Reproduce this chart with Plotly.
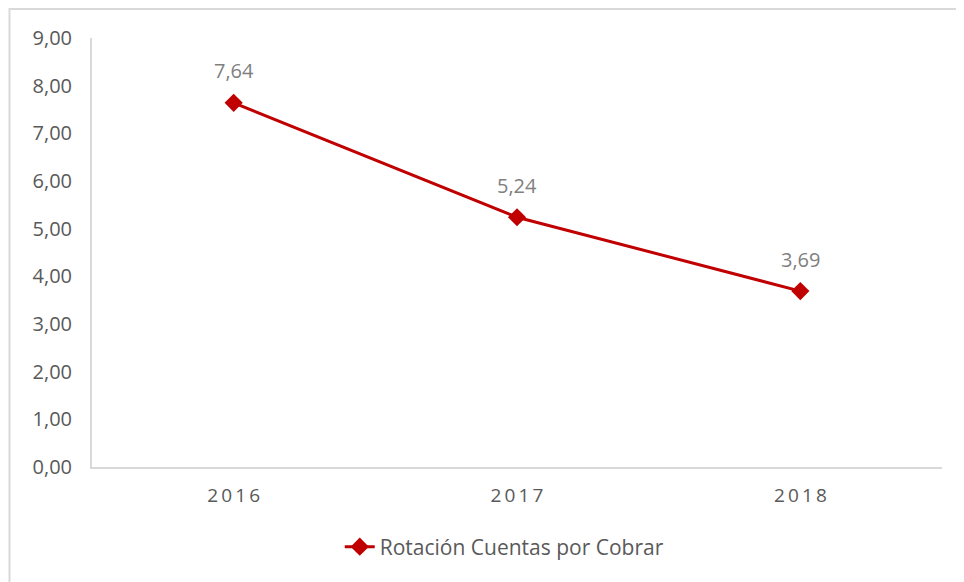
import plotly.graph_objects as go

# Datos
anios = ["2016", "2017", "2018"]
rotacion = [7.64, 5.24, 3.69]
serie = "Rotación Cuentas por Cobrar"
ticks_y = [0, 1, 2, 3, 4, 5, 6, 7, 8, 9]

rojo = "#C00000"
gris_txt = "#595959"
gris_lbl = "#808080"
gris_eje = "#D9D9D9"
fuente = "Open Sans"
tam = 20

fig = go.Figure()
fig.add_trace(go.Scatter(
    x=anios, y=rotacion, name=serie, mode="lines+markers",
    line=dict(color=rojo, width=3),
    marker=dict(symbol="diamond", size=14, color=rojo),
))

# Etiquetas de datos sobre cada punto
for i, v in enumerate(rotacion):
    fig.add_annotation(
        x=i, y=v, text=f"{v:.2f}".replace(".", ","), showarrow=False,
        yshift=32, font=dict(family=fuente, size=tam, color=gris_lbl),
    )

# Borde del área del gráfico (solo arriba e izquierda visibles)
fig.add_shape(
    type="rect", xref="paper", yref="paper",
    x0=-82.5 / 850, x1=1.2, y0=-0.5, y1=458 / 429,
    line=dict(color=gris_eje, width=2), layer="below",
)

fig.update_layout(
    width=956, height=574,
    margin=dict(l=84, r=22, t=30, b=115),
    paper_bgcolor="white", plot_bgcolor="white",
    separators=",.",
    font=dict(family=fuente, size=tam, color=gris_txt),
    showlegend=True,
    legend=dict(orientation="h", x=0.485, xanchor="center", y=-0.1865, yanchor="middle",
                font=dict(family=fuente, size=tam + 1, color=gris_txt)),
    xaxis=dict(
        type="category", range=[-0.5, 2.5],
        tickvals=anios, ticktext=["\u2009".join(a) for a in anios],
        showline=True, linecolor=gris_eje, linewidth=2,
        showgrid=False, ticks="", ticklabelstandoff=10,
        tickfont=dict(family=fuente, size=tam - 1, color=gris_txt),
    ),
    yaxis=dict(
        range=[0, 9], tickvals=ticks_y, tickformat=".2f",
        showline=True, linecolor=gris_eje, linewidth=2,
        showgrid=False, zeroline=False, ticks="", ticklabelstandoff=14,
        tickfont=dict(family=fuente, size=tam, color=gris_txt),
    ),
)

fig.write_html("out.html")
